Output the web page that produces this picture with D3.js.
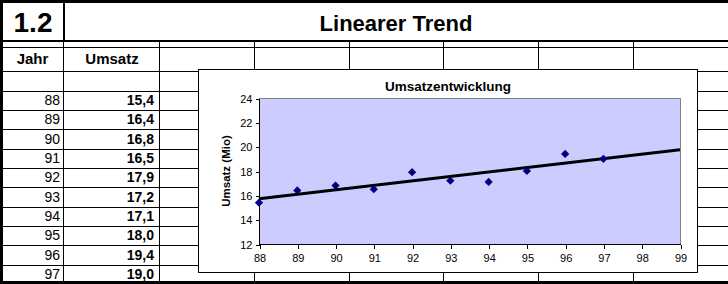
<!DOCTYPE html>
<html>
<head>
<meta charset="utf-8">
<script src="https://cdn.jsdelivr.net/npm/d3@7"></script>
<style>
  html, body { margin: 0; padding: 0; background: #fff; }
  svg { display: block; }
  text { font-family: "Liberation Sans", Arial, sans-serif; fill: #000; }
</style>
</head>
<body>
<div id="sheet"></div>
<script>
// data
var years = [88, 89, 90, 91, 92, 93, 94, 95, 96, 97];
var umsatz = [15.4, 16.4, 16.8, 16.5, 17.9, 17.2, 17.1, 18.0, 19.4, 19.0];
var xTicks = [88, 89, 90, 91, 92, 93, 94, 95, 96, 97, 98, 99];
var yTicks = [12, 14, 16, 18, 20, 22, 24];
var headers = ["Jahr", "Umsatz"];

var width = 728, height = 284;

// spreadsheet grid
var cols = [0, 63, 159, 254, 349, 443, 538, 633, 728];
var rows = [47, 71, 91, 110, 129, 149, 168, 187, 207, 226, 245, 265];
var dataRowBottoms = [110, 129, 149, 168, 187, 207, 226, 245, 265, 284];

var svg = d3.select("#sheet").append("svg")
  .attr("width", width)
  .attr("height", height);

var grid = svg.append("g").attr("stroke", "#000").attr("shape-rendering", "crispEdges");

rows.forEach(function(r) {
  grid.append("line").attr("x1", 0).attr("x2", width)
    .attr("y1", r + 0.5).attr("y2", r + 0.5).attr("stroke-width", 1);
});
cols.slice(1, -1).forEach(function(c) {
  grid.append("line").attr("x1", c + 0.5).attr("x2", c + 0.5)
    .attr("y1", 41).attr("y2", height).attr("stroke-width", 1);
});
// thick bits
grid.append("line").attr("x1", 0).attr("x2", width).attr("y1", 41).attr("y2", 41).attr("stroke-width", 2);
grid.append("line").attr("x1", 64).attr("x2", 64).attr("y1", 0).attr("y2", 41).attr("stroke-width", 2);
grid.append("line").attr("x1", 0).attr("x2", width).attr("y1", 1.5).attr("y2", 1.5).attr("stroke-width", 3);
grid.append("line").attr("x1", 1.5).attr("x2", 1.5).attr("y1", 0).attr("y2", height).attr("stroke-width", 3);
grid.append("line").attr("x1", 0).attr("x2", width).attr("y1", 282.5).attr("y2", 282.5).attr("stroke-width", 3);

// header texts
svg.append("text").attr("x", 33).attr("y", 32).attr("text-anchor", "middle")
  .style("font-size", "28px").style("font-weight", "bold").text("1.2");
svg.append("text").attr("x", 396).attr("y", 31).attr("text-anchor", "middle")
  .style("font-size", "22px").style("font-weight", "bold").text("Linearer Trend");

headers.forEach(function(h, i) {
  svg.append("text")
    .attr("x", (cols[i] + cols[i + 1]) / 2 + 1)
    .attr("y", 64)
    .attr("text-anchor", "middle")
    .style("font-size", "15px").style("font-weight", "bold")
    .text(h);
});

var fmt = function(v) { return d3.format(".1f")(v).replace(".", ","); };

svg.selectAll(".year")
  .data(years)
  .enter().append("text")
  .attr("class", "year")
  .attr("x", 60)
  .attr("y", function(d, i) { return dataRowBottoms[i] - 5; })
  .attr("text-anchor", "end")
  .style("font-size", "14px")
  .text(function(d) { return d; });

svg.selectAll(".val")
  .data(umsatz)
  .enter().append("text")
  .attr("class", "val")
  .attr("x", 154)
  .attr("y", function(d, i) { return dataRowBottoms[i] - 5; })
  .attr("text-anchor", "end")
  .style("font-size", "14px").style("font-weight", "bold")
  .text(function(d) { return fmt(d); });

// the chart object
var chart = svg.append("g");
chart.append("rect")
  .attr("x", 198.5).attr("y", 69.5)
  .attr("width", 499).attr("height", 203)
  .attr("fill", "#fff").attr("stroke", "#000");

chart.append("text").attr("x", 448).attr("y", 91).attr("text-anchor", "middle")
  .style("font-size", "13.5px").style("font-weight", "bold").text("Umsatzentwicklung");

var x = d3.scaleLinear().domain([88, 99]).range([259, 680]);
var y = d3.scaleLinear().domain([12, 24]).range([244, 98]);

chart.append("rect")
  .attr("x", x(88) + 0.5).attr("y", y(24) + 0.5)
  .attr("width", x(99) - x(88)).attr("height", y(12) - y(24))
  .attr("fill", "#ccccff").attr("stroke", "#808080")
  .attr("shape-rendering", "crispEdges");

var yAxis = d3.axisLeft(y).tickValues(yTicks).tickSize(4).tickPadding(3).tickFormat(d3.format("d"));
var xAxis = d3.axisBottom(x).tickValues(xTicks).tickSize(4).tickPadding(6).tickFormat(d3.format("d"));

var gy = chart.append("g").attr("transform", "translate(" + (x(88) + 0.5) + ",0.5)").call(yAxis);
var gx = chart.append("g").attr("transform", "translate(0.5," + (y(12) + 0.5) + ")").call(xAxis);
[gy, gx].forEach(function(g) {
  g.selectAll("path, line").attr("stroke", "#000").attr("shape-rendering", "crispEdges");
  g.select(".domain").attr("d", g === gy ? "M0," + y(24) + "V" + y(12) : "M" + x(88) + ",0H" + x(99));
  g.selectAll("text").style("font-family", "'Liberation Sans', Arial, sans-serif")
    .style("font-size", "11px").attr("fill", "#000");
});

chart.append("text")
  .attr("transform", "translate(230," + ((y(12) + y(24)) / 2) + ") rotate(-90)")
  .attr("text-anchor", "middle")
  .style("font-size", "11.5px").style("font-weight", "bold")
  .text("Umsatz (Mio)");

// linear trend (least squares over the data)
var mx = d3.mean(years), my = d3.mean(umsatz);
var sxy = d3.sum(years, function(d, i) { return (d - mx) * (umsatz[i] - my); });
var sxx = d3.sum(years, function(d) { return (d - mx) * (d - mx); });
var slope = sxy / sxx, icpt = my - slope * mx;
var trend = [88, 99].map(function(t) { return [t, icpt + slope * t]; });

chart.append("path")
  .datum(trend)
  .attr("fill", "none")
  .attr("stroke", "#000")
  .attr("stroke-width", 3)
  .attr("d", d3.line().x(function(d) { return x(d[0]); }).y(function(d) { return y(d[1]); }));

chart.selectAll(".pt")
  .data(years)
  .enter().append("path")
  .attr("class", "pt")
  .attr("transform", function(d, i) { return "translate(" + x(d) + "," + y(umsatz[i]) + ") rotate(45)"; })
  .attr("d", d3.symbol().type(d3.symbolSquare).size(34))
  .attr("fill", "#000080");
</script>
</body>
</html>
